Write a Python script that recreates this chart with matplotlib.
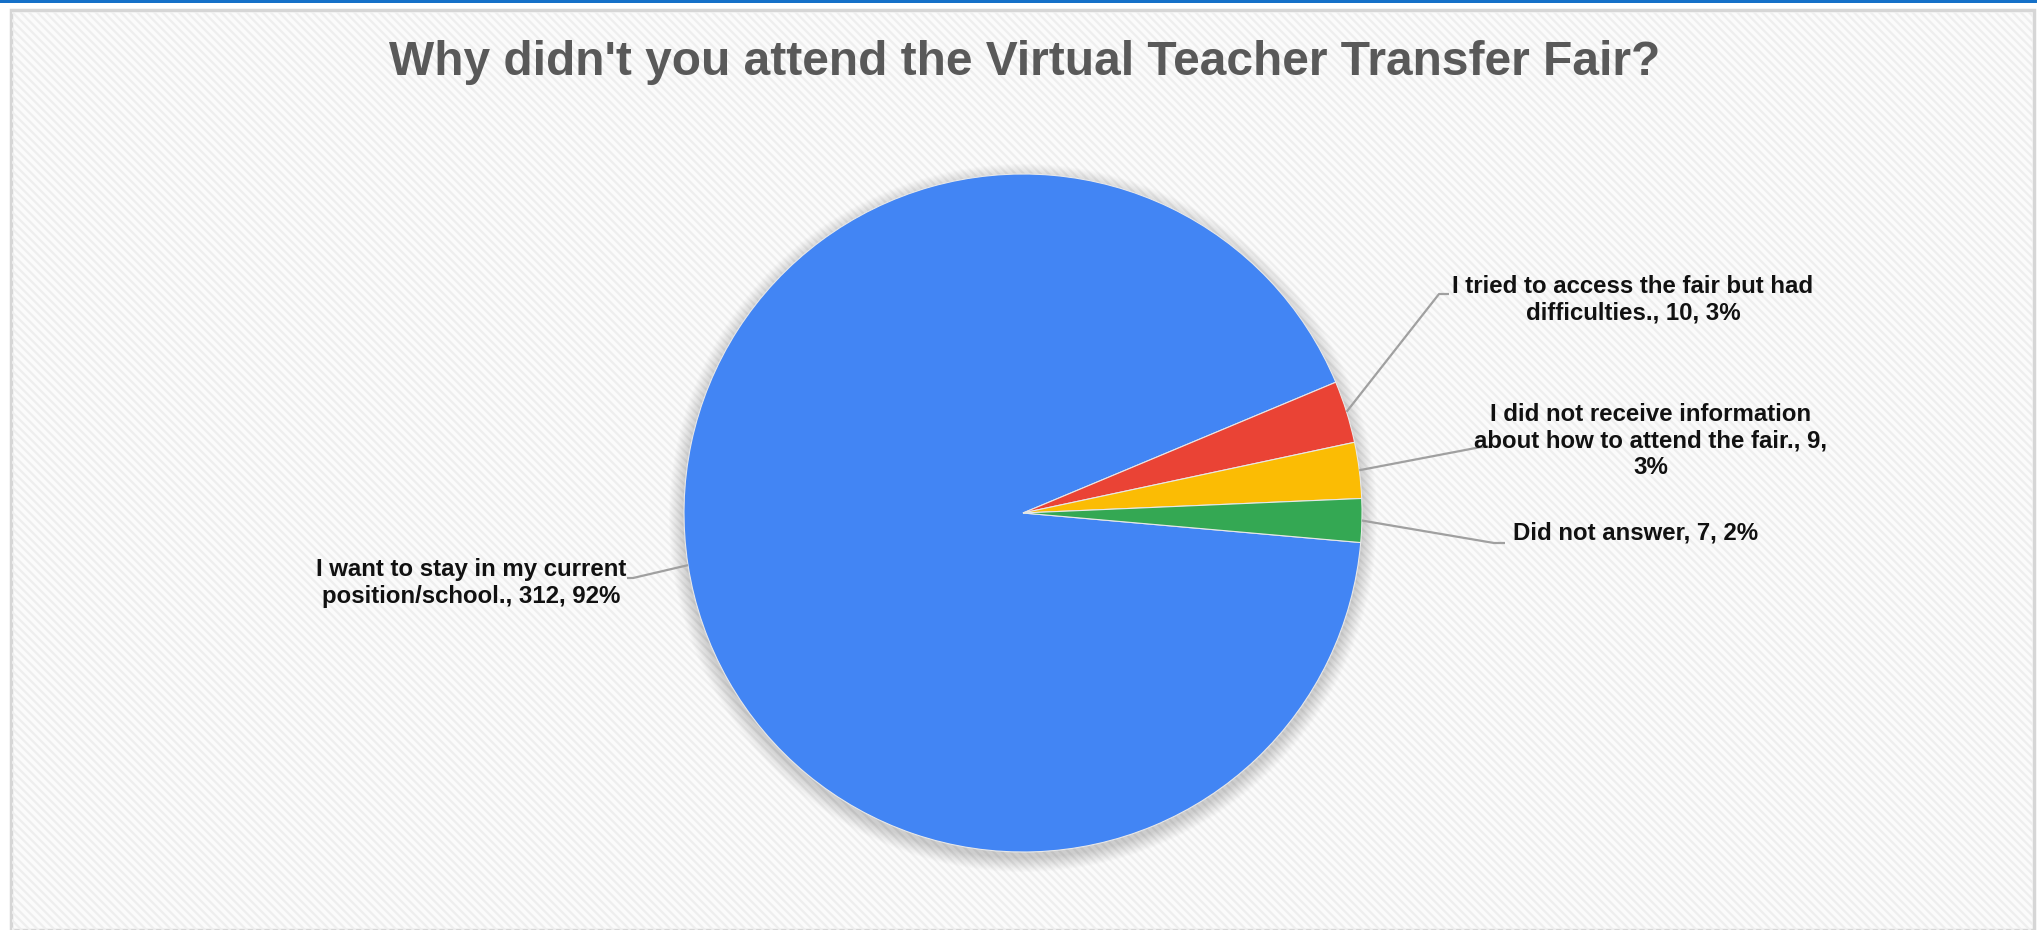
import matplotlib

matplotlib.use("Agg")
import matplotlib.pyplot as plt  # noqa: E402
from matplotlib.patches import Circle, Rectangle  # noqa: E402
import numpy as np  # noqa: E402

plt.rcParams["font.family"] = ["Liberation Sans", "DejaVu Sans"]
plt.rcParams["hatch.linewidth"] = 1.6

TITLE = "Why didn't you attend the Virtual Teacher Transfer Fair?"
categories = [
    "I want to stay in my current\nposition/school.",
    "I tried to access the fair but had\ndifficulties.",
    "I did not receive information\nabout how to attend the fair.",
    "Did not answer",
]
counts = [312, 10, 9, 7]
percent_text = ["92%", "3%", "3%", "2%"]
colors = ["#4285F4", "#EA4335", "#FBBC04", "#34A853"]

W, H = 2037, 930
CX, CY, R = 1023, H - 513, 339

fig = plt.figure(figsize=(W / 100, H / 100), dpi=100)
fig.patch.set_facecolor("white")
ax = fig.add_axes((0, 0, 1, 1))

# chart box with light diagonal stripes
ax.add_patch(Rectangle((11, 0), W - 14, H - 10, facecolor="#fbfbfb",
                       edgecolor="#d6d6d6", linewidth=2.5, zorder=0))
ax.add_patch(Rectangle((12, 0), W - 16, H - 12, facecolor="none",
                       edgecolor="#eeeeee", hatch="\\\\\\\\", linewidth=0, zorder=0.5))
# top blue strip
ax.add_patch(Rectangle((0, H - 3), W, 3, facecolor="#1570c8", edgecolor="none", zorder=1))

# soft shadow behind the pie
for k in np.arange(1, 16):
    ax.add_patch(Circle((CX, CY - 5), R + k, facecolor="#000000", alpha=0.013,
                        edgecolor="none", zorder=1))

wedges, _ = ax.pie(counts, colors=colors, startangle=-5, counterclock=False,
                   center=(CX, CY), radius=R, frame=True,
                   wedgeprops=dict(edgecolor="#e8e8e8", linewidth=0.8))
for w in wedges:
    w.set_zorder(2)
ax.set_xlim(0, W)
ax.set_ylim(0, H)
ax.set_aspect("equal")
ax.axis("off")

# label placement (text centre, elbow point, line end)
label_pos = [(471, 583), (1633, 300), (1651, 441), (1636, 533)]
elbows = [(633, 578), (1439, 294), (1481, 447), (1494, 543)]
ends = [(627, 578), (1449, 294), (1489, 447), (1505, 543)]

for i, w in enumerate(wedges):
    mid = np.deg2rad((w.theta1 + w.theta2) / 2)
    px, py = CX + R * np.cos(mid), CY + R * np.sin(mid)
    ex, ey = elbows[i]
    tx, ty = ends[i]
    ax.plot([px, ex, tx], [py, H - ey, H - ty], color="#a0a0a0", linewidth=1.6,
            zorder=3, solid_capstyle="butt")
    if i == 2:
        text = "I did not receive information\nabout how to attend the fair., 9,\n3%"
    else:
        text = f"{categories[i]}, {counts[i]}, {percent_text[i]}"
    lx, ly = label_pos[i]
    ax.text(lx, H - ly, text, ha="center", va="center", fontsize=17.3,
            fontweight="bold", color="#111111", linespacing=1.2, zorder=4)

ax.text(1025, H - 75, TITLE, ha="center", va="baseline", fontsize=34.5,
        fontweight="bold", color="#595959", zorder=4)

fig.savefig("out.png", dpi=100)
